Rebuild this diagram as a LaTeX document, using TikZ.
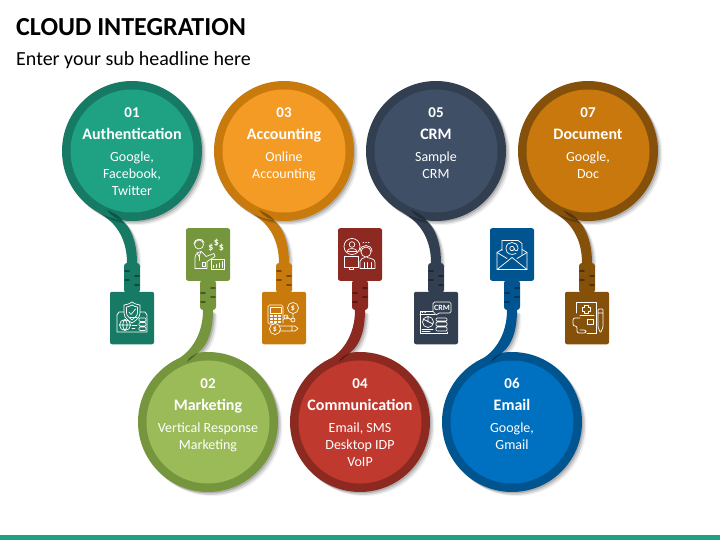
\documentclass[tikz,border=0pt]{standalone}
\usepackage{fontspec}
\setmainfont{Carlito}
\usetikzlibrary{calc, shadows, backgrounds}
\definecolor{tealface}{RGB}{31,161,132}
\definecolor{tealring}{RGB}{22,122,100}
\definecolor{greenface}{RGB}{155,187,89}
\definecolor{greenring}{RGB}{118,150,62}
\definecolor{amberface}{RGB}{244,155,38}
\definecolor{amberring}{RGB}{200,122,12}
\definecolor{redface}{RGB}{192,57,47}
\definecolor{redring}{RGB}{140,42,34}
\definecolor{navyface}{RGB}{63,79,102}
\definecolor{navyring}{RGB}{50,63,80}
\definecolor{blueface}{RGB}{0,112,192}
\definecolor{bluering}{RGB}{0,84,144}
\definecolor{ochreface}{RGB}{200,120,12}
\definecolor{ochrering}{RGB}{133,81,10}

\tikzset{
    softshadow/.style={
        general shadow={shadow xshift=1.5pt, shadow yshift=-1.5pt, fill=black, opacity=.16},
        general shadow={shadow xshift=3pt, shadow yshift=-3pt, fill=black, opacity=.11},
        general shadow={shadow xshift=4.5pt, shadow yshift=-4pt, fill=black, opacity=.06}},
    bubble/.style 2 args={circle, minimum size=140pt, inner sep=0pt, fill=#1, softshadow,
        path picture={\fill[#2] (path picture bounding box.center) circle (61.5pt);}},
    caption/.style={anchor=north, align=center, text=white, font=\fontsize{14}{17}\selectfont, inner sep=0pt},
    tile/.style={rectangle, minimum width=44pt, minimum height=52.5pt, rounded corners=2pt, inner sep=0pt},
    plug/.style={rectangle, minimum width=16pt, minimum height=30pt, rounded corners=3pt, inner sep=0pt},
    iconline/.style={draw=white, line width=.7pt, line join=round, line cap=round},
    icontext/.style={text=white, inner sep=0pt, font=\fontsize{8}{9}\bfseries\selectfont}
}

\newcommand{\numline}[1]{{\fontsize{15}{17}\bfseries\selectfont #1}\\[5pt]}
\newcommand{\headline}[1]{{\fontsize{16}{17}\bfseries\selectfont #1}\\[5pt]}

% cable from a top circle down to its plug
\newcommand{\cabletop}[3]{
    \fill[#3, softshadow] (#1.242) .. controls ($(#2.north)+(-20,-43)$) and ($(#2.north)+(-5,-28)$) .. ($(#2.north)+(-5,0)$)
        -- ($(#2.north)+(5,0)$) .. controls ($(#2.north)+(5,-25)$) and ($(#2.north)+(-4,-38)$) .. (#1.262) -- cycle;
}
% cable from a bottom circle up to its plug
\newcommand{\cablelow}[3]{
    \fill[#3, softshadow] (#1.122) .. controls ($(#2.south)+(-18,45)$) and ($(#2.south)+(-5,25)$) .. ($(#2.south)+(-5,0)$)
        -- ($(#2.south)+(5,0)$) .. controls ($(#2.south)+(5,20)$) and ($(#2.south)+(0,35)$) .. (#1.98) -- cycle;
}
% dark wedge where a cable enters its circle
\newcommand{\wedgetop}[1]{
    \fill[black, opacity=.3] ($(#1.center)+(-25,59)$) .. controls ($(#1.center)+(-18,62)$) and ($(#1.center)+(-12,65)$) .. (#1.262)
        .. controls ($(#1.center)+(-14,68)$) and ($(#1.center)+(-20,66)$) .. cycle;
}
\newcommand{\wedgelow}[1]{
    \fill[black, opacity=.3] ($(#1.center)+(-21,-60)$) .. controls ($(#1.center)+(-17,-63)$) and ($(#1.center)+(-14,-65)$) .. (#1.98)
        .. controls ($(#1.center)+(-14,-67)$) and ($(#1.center)+(-20,-65)$) .. cycle;
}
% grooves on a plug, #2 = side of the upper pair
\newcommand{\plugmarks}[3]{
    \draw[#3, line width=1.8pt, line cap=round]
        ($(#1.center)+(#2*-7,-7)$) -- ($(#1.center)+(#2*-3,-7)$)
        ($(#1.center)+(#2*-7,2)$) -- ($(#1.center)+(#2*-3,2)$)
        ($(#1.center)+(#2*3,-2)$) -- ($(#1.center)+(#2*7,-2)$)
        ($(#1.center)+(#2*3,7)$) -- ($(#1.center)+(#2*7,7)$);
}

\newcommand{\iconshield}[1]{\begin{scope}[shift={(#1.center)}]
    \draw[iconline] (0,-16) .. controls (3,-14) and (6,-13) .. (8,-13) -- (8,-5) .. controls (8,0) and (3,3) .. (0,5)
        .. controls (-3,3) and (-8,0) .. (-8,-5) -- (-8,-13) .. controls (-6,-13) and (-3,-14) .. (0,-16);
    \draw[iconline] (0,-13) .. controls (2,-12) and (4,-11) .. (5.5,-11) -- (5.5,-5) .. controls (5.5,-2) and (2,0) .. (0,2)
        .. controls (-2,0) and (-5.5,-2) .. (-5.5,-5) -- (-5.5,-11) .. controls (-4,-11) and (-2,-12) .. (0,-13);
    \draw[iconline] (-3,-6) -- (-1,-3.5) -- (3.5,-9);
    \draw[iconline] (-8,-6) -- (-13,-6) -- (-15,-3) -- (-15,14) -- (15,14) -- (15,-3) -- (13,-6) -- (8,-6);
    \draw[iconline] (-7,7) circle (5.5pt) (-12.5,7) -- (-1.5,7) (-7,1.5) .. controls (-10,5) and (-10,9) .. (-7,12.5)
        .. controls (-4,9) and (-4,5) .. (-7,1.5);
    \draw[iconline, rounded corners=1pt] (7,0) rectangle (14,3.5) (7,4.5) rectangle (14,8) (7,9) rectangle (14,12.5);
    \draw[iconline] (0,7) -- (5,7) (0,10) -- (3,10) (-2,-1) -- (5,-1);
\end{scope}}

\newcommand{\iconadvisor}[1]{\begin{scope}[shift={(#1.center)}]
    \draw[iconline] (-9,-10) circle (4.5pt);
    \draw[iconline] (-14,-11) .. controls (-14,-16) and (-5,-17) .. (-4,-12);
    \draw[iconline] (-13,14) -- (-13,3) .. controls (-13,-1) and (-8,-3) .. (-7,-3) -- (-9,2) -- (-11,-2);
    \draw[iconline] (-7,-3) .. controls (-4,-1) and (-3,1) .. (-2,2) -- (6,-1) -- (7,2) -- (-1,7) -- (-1,14) -- (-13,14);
    \draw[iconline] (-9,2) -- (-9,6) (-6,8) rectangle (-3,12);
    \draw[iconline] (3,5) rectangle (16,14.5);
    \draw[iconline] (5,13) -- (5,11) (8,13) -- (8,10) (11,13) -- (11,8.5) (14,13) -- (14,7);
    \node[icontext, font=\fontsize{10}{11}\bfseries\selectfont] (d1) at (3,-7) {\$};
    \node[icontext, font=\fontsize{10}{11}\bfseries\selectfont] (d2) at (8.5,-12) {\$};
    \node[icontext, font=\fontsize{10}{11}\bfseries\selectfont] (d3) at (13.5,-7) {\$};
\end{scope}}

\newcommand{\iconcalc}[1]{\begin{scope}[shift={(#1.center)}]
    \draw[iconline, rounded corners=1.5pt] (-10,6) -- (-16,6) -- (-16,-13) -- (-1,-13) -- (-1,5);
    \draw[iconline] (-14,-11) rectangle (-3,-5);
    \foreach \kx in {-14,-10,-6}
        \foreach \ky in {-3,0,3}
            \draw[iconline] (\kx,\ky) rectangle +(2,1.6);
    \draw[iconline] (-9,11) circle (5.5pt);
    \draw[iconline] (-4,8) -- (11,8) -- (14,10.5) -- (11,13) -- (-4,13) (8,8) -- (8,13);
    \draw[iconline] (9,-10) circle (5.5pt);
    \draw[iconline] (9,-4.5) -- (9,0) (2,-1) -- (7,1.5) (-1,2) -- (1,0);
    \draw[iconline] (9,2) circle (2pt) (2,-1) circle (2pt);
    \node[icontext] (s1) at (9,-10) {\$};
    \node[icontext] (s2) at (-9,11) {\$};
\end{scope}}

\newcommand{\iconagent}[1]{\begin{scope}[shift={(#1.center)}]
    \draw[iconline] (-8,-8) circle (8pt) (-8,-10) circle (2.8pt);
    \draw[iconline] (-13,-3) .. controls (-13,-7) and (-3,-7) .. (-3,-3) -- cycle;
    \draw[iconline] (-16,2) rectangle (-2,13) (-11,13) -- (-11,15) -- (-7,15) -- (-7,13);
    \draw[iconline] (6,-2.5) circle (5pt);
    \draw[iconline] (0,-3) .. controls (0,-11) and (12,-11) .. (12,-3);
    \draw[iconline] (0,14) -- (0,7) .. controls (0,4) and (3,4) .. (5,3) (7,3) .. controls (10,4) and (15,4) .. (15,8) -- (15,14) -- (0,14);
    \draw[iconline] (4,8) -- (4,14) (7,8) -- (7,14) (11,8) -- (11,14);
    \draw[iconline, dotted] (3,-12.5) -- (10,-12.5);
\end{scope}}

\newcommand{\iconcrm}[1]{\begin{scope}[shift={(#1.center)}]
    \draw[iconline, rounded corners=1.5pt] (-3,-5) -- (-3,-16) -- (15,-16) -- (15,-5) -- (2,-5) -- (0,-2) -- (0,-5) -- cycle;
    \node[icontext] (crm) at (6,-10.5) {CRM};
    \draw[iconline] (-3,-7) -- (-16,-7) -- (-16,15) -- (11,15) -- (11,14) (-16,-4) -- (-1,-4);
    \draw[iconline] (-8,4) circle (5.5pt) (-13,1) -- (-3,6) (-8,4) -- (-8,-1);
    \draw[iconline, rounded corners=1pt] (0,0) rectangle (11,3) (0,4) rectangle (11,8) (0,9) rectangle (11,13);
    \draw[iconline] (-14,11) -- (-3,11) (-14,13) -- (-6,13);
    \draw[iconline, dotted] (-14,-5.5) -- (-9,-5.5);
\end{scope}}

\newcommand{\iconmail}[1]{\begin{scope}[shift={(#1.center)}]
    \draw[iconline] (-10,-4) -- (-10,-14) -- (6,-14) -- (10,-11) -- (10,0);
    \draw[iconline] (-10,-5) -- (-15,-2) -- (-15,15) -- (15,15) -- (15,-2) -- (10,-5);
    \draw[iconline] (-15,-2) -- (-5,4) (15,-2) -- (5,4) (-15,15) -- (0,3) -- (15,15);
    \draw[iconline] (0,-6) circle (2.2pt);
    \draw[iconline] (2.2,-6) .. controls (2.5,-3) and (6,-3) .. (6,-6) .. controls (6,-14) and (-6,-14) .. (-6,-6)
        .. controls (-6,0) and (0,1) .. (4,-1);
\end{scope}}

\newcommand{\iconmedical}[1]{\begin{scope}[shift={(#1.center)}]
    \draw[iconline] (-11,-5) -- (-11,-16) -- (9,-16) -- (9,15) -- (0,15);
    \draw[iconline] (-3,-13) -- (1,-13) -- (1,-11) -- (3,-11) -- (3,-7) -- (1,-7) -- (1,-5) -- (-3,-5) -- (-3,-7) -- (-5,-7) -- (-5,-11) -- (-3,-11) -- cycle;
    \draw[iconline] (-7,-3) -- (7,-3);
    \draw[iconline] (0,1) rectangle (6.5,6);
    \draw[iconline, rounded corners=2pt] (-7,0) -- (-14,0) -- (-14,8) -- (-10,8) -- (-10,15) -- (-1,15) -- (-1,12) -- (-7,12);
    \draw[iconline, rounded corners=1pt] (11,-9) -- (11,9) -- (13.5,15) -- (16,9) -- (16,-9) -- cycle (11,-5) -- (16,-5);
\end{scope}}

\begin{document}
\begin{tikzpicture}[x=1pt, y=-1pt]

\useasboundingbox (0,0) rectangle (720,540);

\node[anchor=base west, inner sep=0pt, font=\fontsize{26}{28}\bfseries\selectfont] (title) at (16,36) {CLOUD INTEGRATION};
\node[anchor=base west, inner sep=0pt, font=\fontsize{20}{24}\selectfont] (subtitle) at (16,66) {Enter your sub headline here};

% circles
\node[bubble={tealring}{tealface}] (c1) at (132,151) {};
\node[bubble={greenring}{greenface}] (c2) at (208,422) {};
\node[bubble={amberring}{amberface}] (c3) at (284,151) {};
\node[bubble={redring}{redface}] (c4) at (360,422) {};
\node[bubble={navyring}{navyface}] (c5) at (436,151) {};
\node[bubble={bluering}{blueface}] (c6) at (512,422) {};
\node[bubble={ochrering}{ochreface}] (c7) at (588,151) {};

% plugs and tiles
\node[plug, fill=tealring] (p1) at (132,278) {};
\node[plug, fill=greenring] (p2) at (208,295) {};
\node[plug, fill=amberring] (p3) at (284,278) {};
\node[plug, fill=redring] (p4) at (360,295) {};
\node[plug, fill=navyring] (p5) at (436,278) {};
\node[plug, fill=bluering] (p6) at (512,295) {};
\node[plug, fill=ochrering] (p7) at (587,278) {};

\plugmarks{p1}{1}{tealring!60!black}
\plugmarks{p2}{-1}{greenring!60!black}
\plugmarks{p3}{1}{amberring!60!black}
\plugmarks{p4}{-1}{redring!60!black}
\plugmarks{p5}{1}{navyring!60!black}
\plugmarks{p6}{-1}{bluering!60!black}
\plugmarks{p7}{1}{ochrering!60!black}

\node[tile, fill=tealring] (t1) at (132,318) {};
\node[tile, fill=greenring] (t2) at (208,254.5) {};
\node[tile, fill=amberring] (t3) at (284,318) {};
\node[tile, fill=redring] (t4) at (360,254.5) {};
\node[tile, fill=navyring] (t5) at (436,318) {};
\node[tile, fill=bluering] (t6) at (512,254.5) {};
\node[tile, fill=ochrering] (t7) at (587,318) {};

\iconshield{t1}
\iconadvisor{t2}
\iconcalc{t3}
\iconagent{t4}
\iconcrm{t5}
\iconmail{t6}
\iconmedical{t7}

% cables behind circles and plugs
\begin{scope}[on background layer]
\fill[white] (0,0) rectangle (720,540);
\cabletop{c1}{p1}{tealring}
\cablelow{c2}{p2}{greenring}
\cabletop{c3}{p3}{amberring}
\cablelow{c4}{p4}{redring}
\cabletop{c5}{p5}{navyring}
\cablelow{c6}{p6}{bluering}
\cabletop{c7}{p7}{ochrering}
\end{scope}

\wedgetop{c1}
\wedgelow{c2}
\wedgetop{c3}
\wedgelow{c4}
\wedgetop{c5}
\wedgelow{c6}
\wedgetop{c7}

% texts
\node[caption] (l1) at (132,107.5) {\numline{01}\headline{Authentication}Google,\\Facebook,\\Twitter};
\node[caption] (l2) at (208,378.5) {\numline{02}\headline{Marketing}Vertical Response\\Marketing};
\node[caption] (l3) at (284,107.5) {\numline{03}\headline{Accounting}Online\\Accounting};
\node[caption] (l4) at (360,378.5) {\numline{04}\headline{Communication}Email, SMS\\Desktop IDP\\VoIP};
\node[caption] (l5) at (436,107.5) {\numline{05}\headline{CRM}Sample\\CRM};
\node[caption] (l6) at (512,378.5) {\numline{06}\headline{Email}Google,\\Gmail};
\node[caption] (l7) at (588,107.5) {\numline{07}\headline{Document}Google,\\Doc};

\fill[tealface] (0,534.5) rectangle (720,540);

\end{tikzpicture}
\end{document}
